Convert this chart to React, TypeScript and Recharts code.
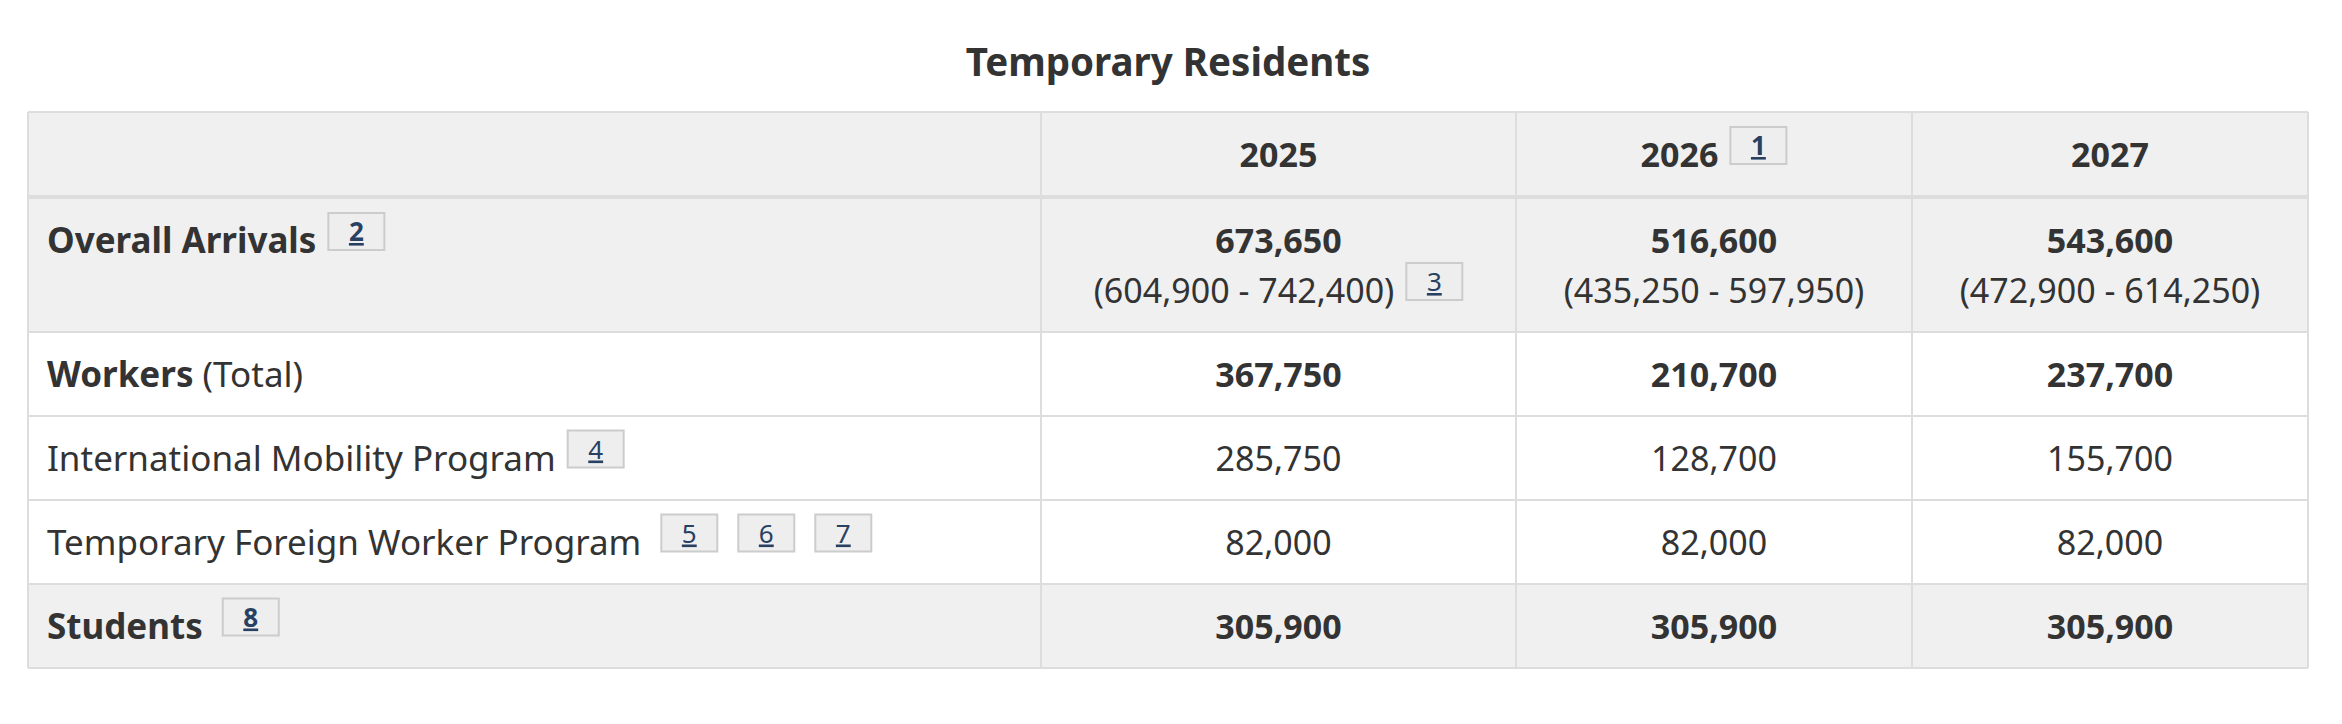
import React from "react";
import { ComposedChart, XAxis, YAxis, ReferenceArea, ReferenceLine } from "recharts";

// table content
const title = "Temporary Residents";
const years = ["2025", "2026", "2027"];
const yearNotes = [[], ["1"], []];

const rowLabels = ["Overall Arrivals", "Workers", "International Mobility Program", "Temporary Foreign Worker Program", "Students"];
const rowLabelSuffix = ["", " (Total)", "", "", ""];
const rowLabelBold = [true, true, false, false, true];
const rowLabelNotes = [["2"], [], ["4"], ["5", "6", "7"], ["8"]];

const overallArrivals = [673650, 516600, 543600];
const overallLow = [604900, 435250, 472900];
const overallHigh = [742400, 597950, 614250];
const overallNotes = [["3"], [], []];
const workersTotal = [367750, 210700, 237700];
const internationalMobility = [285750, 128700, 155700];
const temporaryForeignWorker = [82000, 82000, 82000];
const students = [305900, 305900, 305900];

// layout
const COL_W = [1013, 475, 396, 396];
const ROW_H = [85, 135, 84, 84, 84, 84];
const SHADED = [true, true, false, false, false, true];
const TABLE_W = COL_W.reduce((a, b) => a + b, 0);
const TABLE_H = ROW_H.reduce((a, b) => a + b, 0);
const FONT = '"Noto Sans", "Open Sans", sans-serif';
const NUM_SIZE = 34;
const LABEL_SIZE = 35;
const TEXT = "#333333";
const BORDER = "#dddddd";
const NOTE_W = 58;
const NOTE_H = 39;

const colEdges = COL_W.reduce<number[]>((acc, w) => [...acc, acc[acc.length - 1] + w], [0]);
const rowEdges = ROW_H.reduce<number[]>((acc, h) => [...acc, acc[acc.length - 1] + h], [0]);

const ctx = typeof document !== "undefined" ? document.createElement("canvas").getContext("2d") : null;
function measure(text: string, bold: boolean, size: number) {
  if (!ctx) return text.length * size * 0.55;
  ctx.font = `${bold ? 700 : 400} ${size}px ${FONT}`;
  return ctx.measureText(text).width;
}

type Seg = { t: string; bold?: boolean };
type Line = { segs: Seg[]; notes: string[]; noteBold: boolean; gap: number; dy: number };
type Cell = { col: number; row: number; align: "left" | "center"; size: number; lines: Line[] };

const fmt = (n: number) => n.toLocaleString("en-US");

const cells: Cell[] = [];
cells.push({ col: 0, row: 0, align: "left", size: LABEL_SIZE, lines: [] });
years.forEach((y, i) =>
  cells.push({
    col: i + 1,
    row: 0,
    align: "center",
    size: NUM_SIZE,
    lines: [{ segs: [{ t: y, bold: true }], notes: yearNotes[i], noteBold: true, gap: 11, dy: 12.5 }],
  })
);
rowLabels.forEach((label, r) => {
  const segs: Seg[] = [{ t: label, bold: rowLabelBold[r] }];
  if (rowLabelSuffix[r]) segs.push({ t: rowLabelSuffix[r] });
  const gap = rowLabelNotes[r].length > 1 || r === 4 ? 19 : 11;
  const dy = r === 0 ? -11.5 : 12.5;
  cells.push({
    col: 0,
    row: r + 1,
    align: "left",
    size: LABEL_SIZE,
    lines: [{ segs, notes: rowLabelNotes[r], noteBold: rowLabelBold[r], gap, dy }],
  });
});
years.forEach((_, i) => {
  cells.push({
    col: i + 1,
    row: 1,
    align: "center",
    size: NUM_SIZE,
    lines: [
      { segs: [{ t: fmt(overallArrivals[i]), bold: true }], notes: [], noteBold: true, gap: 11, dy: -11.5 },
      { segs: [{ t: `(${fmt(overallLow[i])} - ${fmt(overallHigh[i])})` }], notes: overallNotes[i], noteBold: false, gap: 11, dy: 38.5 },
    ],
  });
  const plain: [number[], boolean, number][] = [
    [workersTotal, true, 2],
    [internationalMobility, false, 3],
    [temporaryForeignWorker, false, 4],
    [students, true, 5],
  ];
  plain.forEach(([series, bold, row]) =>
    cells.push({
      col: i + 1,
      row,
      align: "center",
      size: NUM_SIZE,
      lines: [{ segs: [{ t: fmt(series[i]), bold }], notes: [], noteBold: bold, gap: 11, dy: 12.5 }],
    })
  );
});

function Note({ x, baseline, label, bold }: { x: number; baseline: number; label: string; bold: boolean }) {
  const top = baseline - 41;
  return (
    <g>
      <rect x={x + 1} y={top + 1} width={NOTE_W - 2} height={NOTE_H - 2} fill="#eeeeee" stroke="#cccccc" strokeWidth={2} />
      <text
        x={x + NOTE_W / 2}
        y={top + 29}
        textAnchor="middle"
        fontFamily={FONT}
        fontSize={26}
        fontWeight={bold ? 700 : 400}
        fill="#284162"
        textDecoration="underline"
      >
        {label}
      </text>
    </g>
  );
}

function makeShape(cell: Cell) {
  return (props: any) => {
    const { x, y, width, height } = props;
    const cy = y + height / 2;
    return (
      <g>
        <rect x={x} y={y} width={width} height={height} fill={SHADED[cell.row] ? "#f0f0f0" : "#ffffff"} />
        {cell.lines.map((line, li) => {
          const textW = line.segs.reduce((s, seg) => s + measure(seg.t, !!seg.bold, cell.size), 0);
          const notesW = line.notes.length ? line.gap + line.notes.length * NOTE_W + (line.notes.length - 1) * 19 : 0;
          const startX = cell.align === "left" ? x + 19 : x + width / 2 - (textW + notesW) / 2;
          const baseline = cy + line.dy;
          return (
            <g key={li}>
              <text x={startX} y={baseline} fontFamily={FONT} fontSize={cell.size} fill={TEXT} style={{ whiteSpace: "pre" }}>
                {line.segs.map((seg, si) => (
                  <tspan key={si} fontWeight={seg.bold ? 700 : 400}>
                    {seg.t}
                  </tspan>
                ))}
              </text>
              {line.notes.map((n, ni) => (
                <Note
                  key={n}
                  x={startX + textW + line.gap + ni * (NOTE_W + 19)}
                  baseline={baseline}
                  label={n}
                  bold={line.noteBold}
                />
              ))}
            </g>
          );
        })}
      </g>
    );
  };
}

export default function App() {
  return (
    <div style={{ position: "relative", width: 2326, height: 700 }}>
      <svg width={2326} height={104} style={{ position: "absolute", left: 0, top: 0 }}>
        <text x={1160} y={68} textAnchor="middle" fontFamily={FONT} fontWeight={700} fontSize={38.5} fill={TEXT}>
          {title}
        </text>
      </svg>
      <ComposedChart width={2326} height={700} data={[]} margin={{ top: 104, right: 26, bottom: 40, left: 20 }}>
        <XAxis type="number" dataKey="x" domain={[0, TABLE_W]} hide allowDataOverflow />
        <YAxis type="number" dataKey="y" domain={[0, TABLE_H]} reversed hide allowDataOverflow />
        {cells.map((c) => (
          <ReferenceArea
            key={`${c.col}-${c.row}`}
            x1={colEdges[c.col]}
            x2={colEdges[c.col + 1]}
            y1={rowEdges[c.row]}
            y2={rowEdges[c.row + 1]}
            ifOverflow="visible"
            shape={makeShape(c)}
          />
        ))}
        {rowEdges.map((e, i) => (
          <ReferenceLine key={`h${i}`} y={e} stroke={BORDER} strokeWidth={i === 1 ? 4 : 2} ifOverflow="visible" />
        ))}
        {colEdges.map((e, i) => (
          <ReferenceLine key={`v${i}`} x={e} stroke={BORDER} strokeWidth={2} ifOverflow="visible" />
        ))}
      </ComposedChart>
    </div>
  );
}
